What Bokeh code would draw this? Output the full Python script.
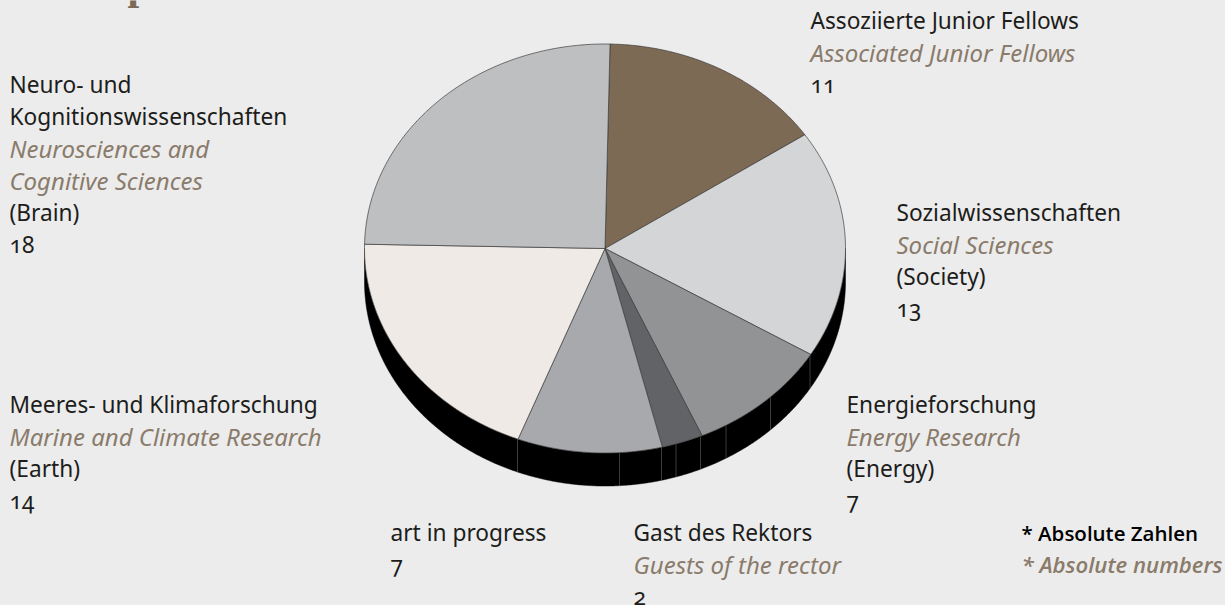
import math
from bokeh.plotting import figure
from bokeh.models import Range1d, ColumnDataSource, GlobalInlineStyleSheet
from bokeh.core.properties import value
from bokeh.embed import file_html
from bokeh.resources import INLINE

categories = ["Associated Junior Fellows", "Social Sciences", "Energy Research", "Guests of the rector",
              "art in progress", "Marine and Climate Research", "Neurosciences and Cognitive Sciences"]
counts = [11, 13, 7, 2, 7, 14, 18]
colors = ["#7d6a55", "#d4d5d7", "#929395", "#626366", "#a8a9ad", "#efeae6", "#bebfc1"]

BLACK = "#1d1d1b"
BROWN = "#8a7b6b"
labels = [
    (810, 20, "Assoziierte Junior Fellows", "n"), (810, 52, "Associated Junior Fellows", "i"), (810, 84, "11", "n"),
    (9, 84, "Neuro- und", "n"), (9, 116, "Kognitionswissenschaften", "n"), (9, 148, "Neurosciences and", "i"),
    (9, 180, "Cognitive Sciences", "i"), (9, 212, "(Brain)", "n"), (9, 244, "18", "n"),
    (896, 212, "Sozialwissenschaften", "n"), (896, 244, "Social Sciences", "i"), (896, 276, "(Society)", "n"), (896, 308, "13", "n"),
    (846, 404, "Energieforschung", "n"), (846, 436, "Energy Research", "i"), (846, 468, "(Energy)", "n"), (846, 500, "7", "n"),
    (9, 404, "Meeres- und Klimaforschung", "n"), (9, 436, "Marine and Climate Research", "i"), (9, 468, "(Earth)", "n"), (9, 500, "14", "n"),
    (390, 532, "art in progress", "n"), (390, 564, "7", "n"),
    (633, 532, "Gast des Rektors", "n"), (633, 564, "Guests of the rector", "i"), (633, 596, "2", "n"),
]
notes = [(1021, 532, "* Absolute Zahlen", "n"), (1021, 564, "* Absolute numbers", "i")]

CX, CY, RX, RY, DEPTH = 604.5, 248, 240.5, 204.5, 33
START = 1.2
seam_x = [517, 619, 661, 675.5, 700, 725.5, 770, 809.5]


def pt(deg):
    a = math.radians(deg)
    return CX + RX * math.sin(a), CY - RY * math.cos(a)


p = figure(width=1225, height=605, x_range=Range1d(0, 1225), y_range=Range1d(605, 0),
           output_backend="svg", toolbar_location=None, min_border=0,
           background_fill_color="#ececec", border_fill_color="#ececec", outline_line_color=None)
p.axis.visible = False
p.grid.visible = False
p.stylesheets = [GlobalInlineStyleSheet(css="html,body{margin:0;padding:0;background:#ececec;overflow:hidden;font-feature-settings:'onum' 1}")]

# side wall
arc = [pt(d) for d in [90 + i * 0.5 for i in range(361)]]
sx = [a[0] for a in arc] + [a[0] for a in reversed(arc)]
sy = [a[1] for a in arc] + [a[1] + DEPTH for a in reversed(arc)]
p.patch(sx, sy, fill_color="#000000", line_color="#000000", line_width=0.5)
for x in seam_x:
    yt = CY + RY * math.sqrt(max(0, 1 - ((x - CX) / RX) ** 2))
    p.line([x, x], [yt, yt + DEPTH], line_color="#4a4a4a", line_width=0.8)

# top slices
total = sum(counts)
xs, ys = [], []
ang = START
for c in counts:
    sweep = 360 * c / total
    n = max(4, int(sweep * 2))
    pts = [pt(ang + sweep * i / n) for i in range(n + 1)]
    xs.append([CX] + [q[0] for q in pts])
    ys.append([CY] + [q[1] for q in pts])
    ang += sweep
p.patches(xs, ys, fill_color=colors, line_color="#3c3c3c", line_width=0.7)


def draw(rows, font="Noto Sans", size_n="22.7px", size_i="24px", col_n=BLACK):
    for kind, col, st, size in (("n", col_n, "normal", size_n), ("i", BROWN, "italic", size_i)):
        sel = [r for r in rows if r[3] == kind]
        src = ColumnDataSource(dict(x=[r[0] for r in sel], y=[r[1] for r in sel], t=[r[2] for r in sel]))
        p.text("x", "y", "t", source=src, text_font=value(font), text_font_size=size,
               text_color=col, text_font_style=st, text_baseline="alphabetic", text_align="left")


draw(labels)
draw(notes, font="Open Sans SemiBold", size_n="20.5px", size_i="22.2px", col_n="#000000")
p.text([127], [-16], ["p"], text_font=value("Liberation Serif"), text_font_size="42px", text_color="#7d6a55",
       text_font_style="bold", text_baseline="alphabetic", text_align="left")

open("out.html", "w").write(file_html(p, INLINE))
